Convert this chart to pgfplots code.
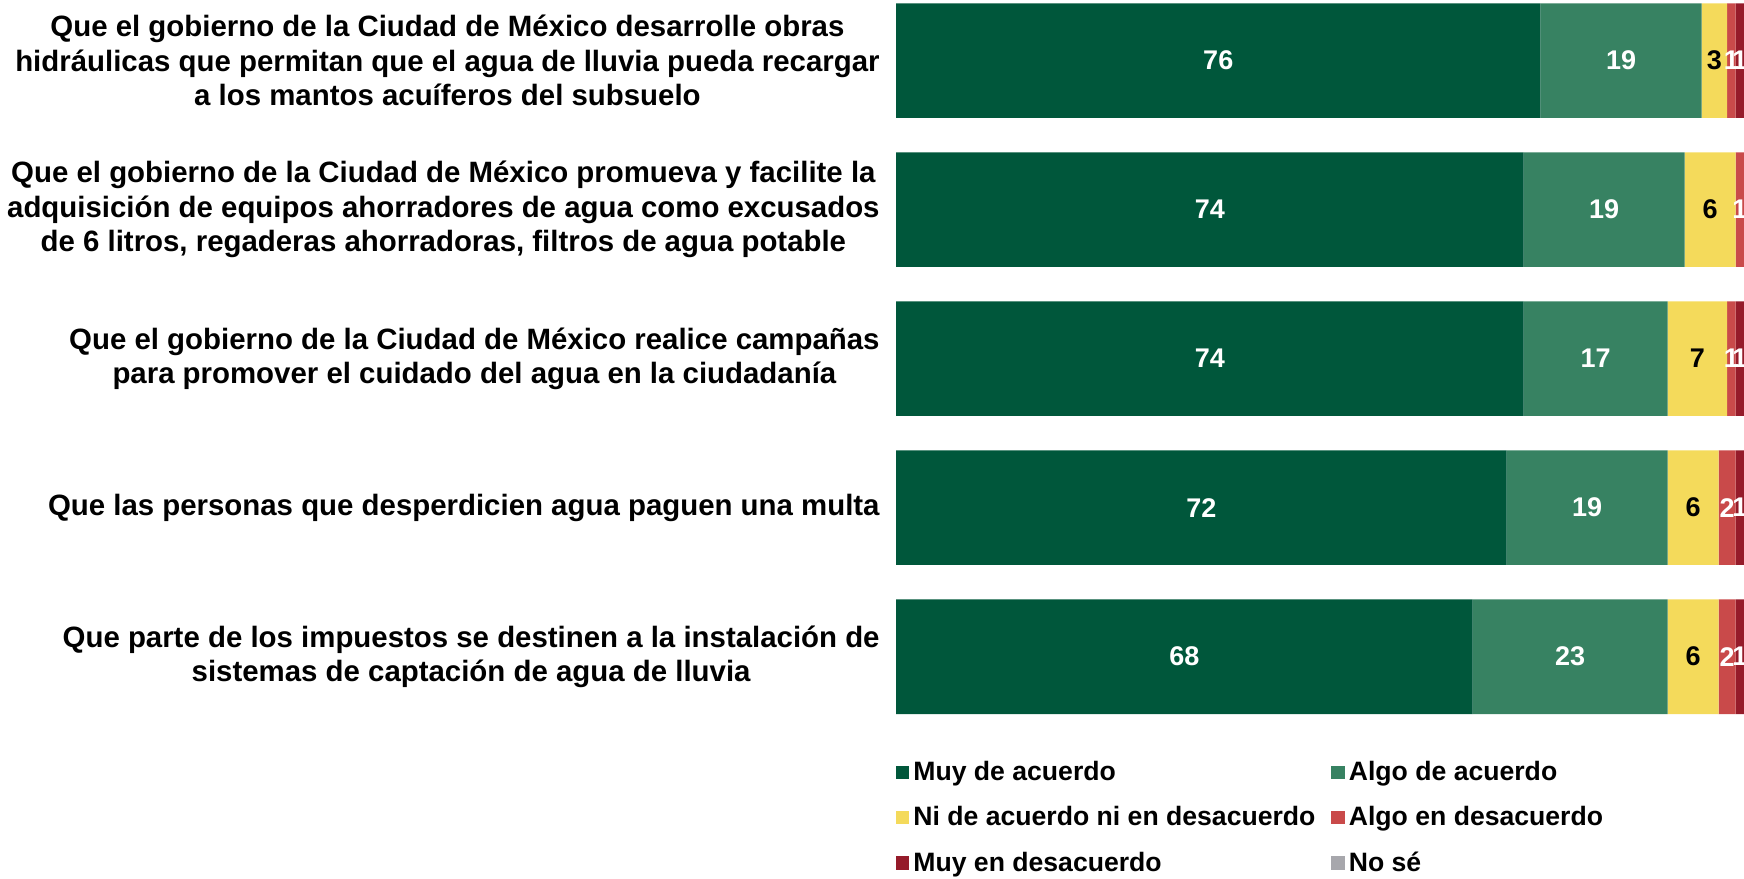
\documentclass[border=0pt]{standalone}
\usepackage{fontspec}
\setmainfont{Liberation Sans}
\usepackage{pgfplots}
\pgfplotsset{compat=1.18}
\definecolor{cMuyA}{HTML}{00573B}
\definecolor{cAlgoA}{HTML}{378262}
\definecolor{cNi}{HTML}{F4DA5B}
\definecolor{cAlgoD}{HTML}{C94A4A}
\definecolor{cMuyD}{HTML}{951B2A}
\definecolor{cNoSe}{HTML}{A7A7AC}
\pgfplotstableread{
x y lab
38 0 76
85.5 0 19
98.5 0 1
99.5 0 1
37 1 74
83.5 1 19
99.5 1 1
37 2 74
82.5 2 17
98.5 2 1
99.5 2 1
36 3 72
81.5 3 19
98 3 2
99.5 3 1
34 4 68
79.5 4 23
98 4 2
99.5 4 1
}\whitelabels
\pgfplotstableread{
x y lab
96.5 0 3
96 1 6
94.5 2 7
94 3 6
94 4 6
}\blacklabels
\begin{document}
\begin{tikzpicture}
\useasboundingbox (0,0) rectangle (872pt,439pt);
\begin{axis}[
  at={(448pt,73.4pt)}, anchor=south west,
  width=424pt, height=365.6pt, scale only axis,
  xbar stacked, bar width=57.3pt,
  xmin=0, xmax=100, ymin=-0.4067, ymax=4.5, y dir=reverse,
  axis line style={draw=none}, major tick length=0pt,
  xtick=\empty, ytick={0,1,2,3,4},
  yticklabels={
    {Que el gobierno de la Ciudad de México desarrolle obras\\hidráulicas que permitan que el agua de lluvia pueda recargar\\a los mantos acuíferos del subsuelo},
    {Que el gobierno de la Ciudad de México promueva y facilite la\\adquisición de equipos ahorradores de agua como excusados\\de 6 litros, regaderas ahorradoras, filtros de agua potable},
    {Que el gobierno de la Ciudad de México realice campañas\\para promover el cuidado del agua en la ciudadanía},
    {Que las personas que desperdicien agua paguen una multa},
    {Que parte de los impuestos se destinen a la instalación de\\sistemas de captación de agua de lluvia}},
  yticklabel style={align=center, font=\fontsize{14.7}{17.2}\selectfont\bfseries, inner sep=0pt, xshift=-8pt},
  legend columns=2, legend cell align=left,
  legend style={at={(0,0)}, anchor=north west, yshift=-15pt, draw=none, fill=none,
    inner sep=0pt, outer sep=0pt, font=\fontsize{13.3}{16}\selectfont\bfseries,
    row sep=11.5pt, nodes={inner sep=0pt},
    /tikz/every odd column/.append style={column sep=2pt},
    /tikz/every even column/.append style={column sep=8pt}},
  legend image code/.code={\path[#1, draw=none] (0pt,-3.3pt) rectangle (6.7pt,3.4pt);},
]
\addplot[fill=cMuyA, draw=none] coordinates {(76,0) (74,1) (74,2) (72,3) (68,4)};
\addlegendentry{Muy de acuerdo}
\addplot[fill=cAlgoA, draw=none] coordinates {(19,0) (19,1) (17,2) (19,3) (23,4)};
\addlegendentry{Algo de acuerdo}
\addplot[fill=cNi, draw=none] coordinates {(3,0) (6,1) (7,2) (6,3) (6,4)};
\addlegendentry{Ni de acuerdo ni en desacuerdo}
\addplot[fill=cAlgoD, draw=none] coordinates {(1,0) (1,1) (1,2) (2,3) (2,4)};
\addlegendentry{Algo en desacuerdo}
\addplot[fill=cMuyD, draw=none] coordinates {(1,0) (0,1) (1,2) (1,3) (1,4)};
\addlegendentry{Muy en desacuerdo}
\addplot[fill=cNoSe, draw=none] coordinates {(0,0) (0,1) (0,2) (0,3) (0,4)};
\addlegendentry{No sé}
\end{axis}
\begin{axis}[
  at={(448pt,73.4pt)}, anchor=south west,
  width=424pt, height=365.6pt, scale only axis,
  xmin=0, xmax=100, ymin=-0.4067, ymax=4.5, y dir=reverse,
  hide axis, clip=false,
]
\addplot[draw=none, mark=none, nodes near coords, point meta=explicit symbolic,
  nodes near coords style={anchor=center, text=white, inner sep=0pt, font=\fontsize{13.5}{15}\selectfont\bfseries}]
  table[x=x, y=y, meta=lab] {\whitelabels};
\addplot[draw=none, mark=none, nodes near coords, point meta=explicit symbolic,
  nodes near coords style={anchor=center, text=black, inner sep=0pt, font=\fontsize{13.5}{15}\selectfont\bfseries}]
  table[x=x, y=y, meta=lab] {\blacklabels};
\end{axis}
\end{tikzpicture}
\end{document}
